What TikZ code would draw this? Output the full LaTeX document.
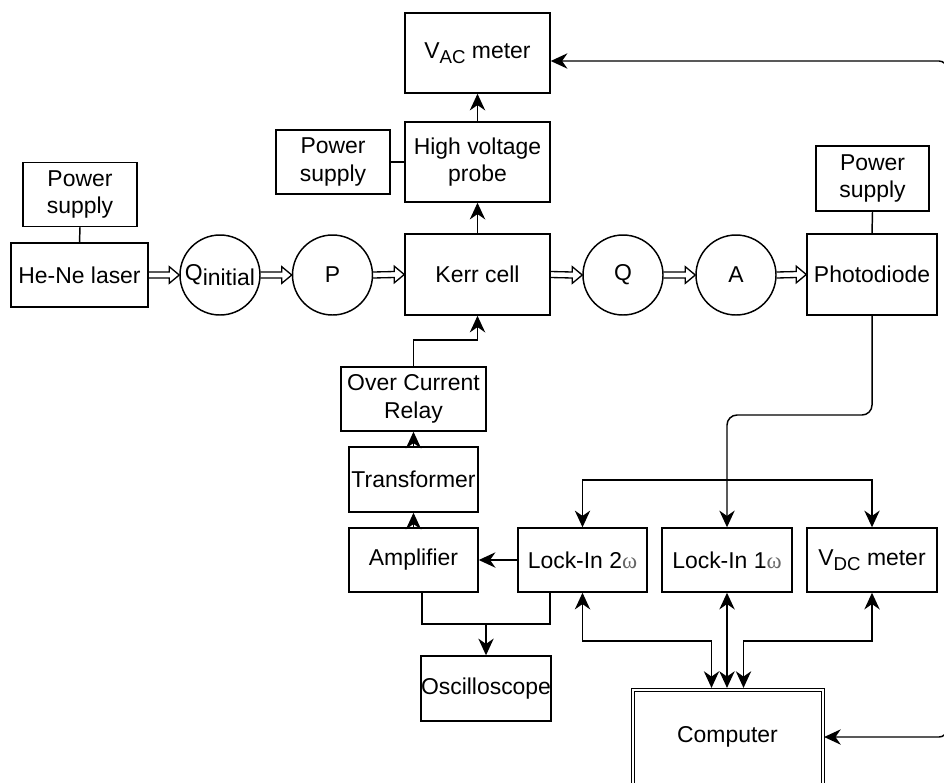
\documentclass[tikz,border=0pt]{standalone}
\usepackage{fontspec}
\setmainfont{Liberation Sans}
\newfontfamily\omegafont{Liberation Serif}
\usetikzlibrary{arrows.meta,calc}
\newcommand\om{{\omegafont\color{black!60}ω}}
\newcommand\subtxt[1]{\raisebox{-3.8pt}{\fontsize{14}{14}\selectfont #1}}
\newcommand\beam[2]{\draw[beam] ($(#1.east)+(0,-3)$) -- ($(#2.west)+(-10,-3)$) -- ($(#2.west)+(-10,-8.3)$) -- (#2.west) -- ($(#2.west)+(-10,8.3)$) -- ($(#2.west)+(-10,3)$) -- ($(#1.east)+(0,3)$);}
\begin{document}
\begin{tikzpicture}[x=0.75pt,y=-0.75pt,
  font=\fontsize{17.2}{20.5}\selectfont,
  line width=1.1pt,
  box/.style 2 args={draw, rectangle, inner sep=0pt, align=center, minimum width={#1*0.75pt}, minimum height={#2*0.75pt}},
  ring/.style={draw, circle, inner sep=0pt, minimum size=60pt},
  tip/.tip={Stealth[length=12.5pt,width=11.5pt,inset=4pt]},
  arr/.style={-tip},
  arrs/.style={tip-tip},
  beam/.style={line width=1pt, line join=miter}
]
\useasboundingbox (0,0) rectangle (944,782);
\fill[white] (0,0) rectangle (944,782);

\node[box={114}{64}] (psL) at (80,194.5) {Power\\supply};
\node[box={137}{64}] (laser) at (79.5,275) {He-Ne laser};
\node[ring] (qi) at (220,275) {Q\raisebox{-3.5pt}{initial}};
\node[ring] (p) at (332.5,275) {P};
\node[box={145}{81}] (kerr) at (477.5,274.5) {Kerr cell};
\node[ring] (q) at (623,275) {Q};
\node[ring] (a) at (736,275) {A};
\node[box={130}{81}] (photo) at (872,274.5) {Photodiode};
\node[box={113}{65}] (psR) at (872.5,178.5) {Power\\supply};
\node[box={145}{80}] (hv) at (477.5,162) {High voltage\\probe};
\node[box={114}{64}] (psM) at (333,162) {Power\\supply};
\node[box={145}{80}] (vac) at (477.5,53) {V\subtxt{AC} meter};
\node[box={145}{64}] (ocr) at (413.5,399) {Over Current\\Relay};
\node[box={129}{65}] (trans) at (413.5,479.5) {Transformer};
\node[box={129}{64}] (amp) at (413.5,560) {Amplifier};
\node[box={129}{64}] (li2) at (582.5,560) {Lock-In 2\om};
\node[box={130}{64}] (li1) at (727,560) {Lock-In 1\om};
\node[box={130}{64}] (vdc) at (872,560) {V\subtxt{DC} meter};
\node[box={130}{65}] (osc) at (486,688.5) {Oscilloscope};
\node[box={190}{95}, double, double distance=1.5pt, line width=0.75pt, outer sep=1.2pt] (comp) at (727.5,737) {Computer};

% plain links
\draw (psL.south) -- (laser.north);
\draw (psM.east) -- (hv.west);
\draw (psR.south) -- (photo.north);

% beam
\beam{laser}{qi}
\beam{qi}{p}
\beam{p}{kerr}
\beam{kerr}{q}
\beam{q}{a}
\beam{a}{photo}

% signal arrows
\draw[arr] (kerr.north) -- (hv.south);
\draw[arr] (hv.north) -- (vac.south);
\coordinate (k1) at (477.5,340);
\draw[arr] (ocr.north) |- (k1) -- (kerr.south);
\draw[arr] (trans.north) -- (ocr.south);
\draw[arr] (amp.north) -- (trans.south);
\draw[arr] (li2.west) -- (amp.east);
\coordinate (j1) at (486,624);
\draw ($(amp.south)+(8.5,0)$) |- (j1) -| ($(li2.south)+(-32.5,0)$);
\draw[arr] (j1) -- (osc.north);
\coordinate (pd1) at (727,415);
\draw[arr, rounded corners=7.5pt] (photo.south) |- (pd1) -- (li1.north);
\coordinate (bus) at (727,480);
\draw[arr] (bus) -| (li2.north);
\draw[arr] (bus) -| (vdc.north);
\coordinate (c1) at (711.5,641);
\coordinate (c3) at (743.5,641);
\draw[arrs] (li2.south) |- (c1) -- ($(comp.north)+(-16,0)$);
\draw[arrs] (li1.south) -- (li1.south |- comp.north);
\draw[arrs] (vdc.south) |- (c3) -- ($(comp.north)+(16,0)$);
\coordinate (r1) at (947,61);
\coordinate (r2) at (947,737);
\draw[arrs, rounded corners=6pt] ($(vac.east)+(0,8)$) -- (r1) -- (r2) -- (comp.east);
\end{tikzpicture}
\end{document}
